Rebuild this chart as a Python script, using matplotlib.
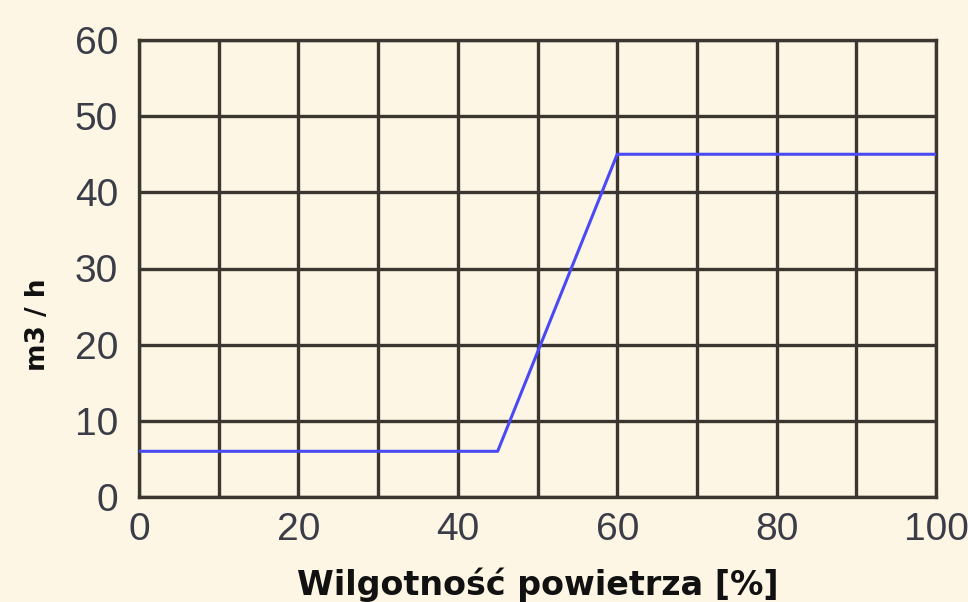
import numpy as np
import matplotlib
matplotlib.use('Agg')
import matplotlib.pyplot as plt

# humidity curve (breakpoints)
humidity = [0, 45, 60, 100]
flow = [6, 6, 45, 45]

xticks = [0, 20, 40, 60, 80, 100]
yticks = [0, 10, 20, 30, 40, 50, 60]

bg = '#fdf6e4'
grid_c = '#3b3630'

fig = plt.figure(figsize=(9.68, 6.02), dpi=100, facecolor=bg)
ax = fig.add_axes([139/968, 1-497/602, (936-139)/968, (497-40)/602])
ax.set_facecolor(bg)

ax.plot(humidity, flow, color='#4a4af5', lw=2.2, zorder=3)

ax.set_xlim(0, 100)
ax.set_ylim(0, 60)
ax.set_xticks(np.arange(0, 101, 10))
ax.set_yticks(yticks)
ax.grid(True, color=grid_c, lw=2.4, zorder=1)
ax.set_axisbelow(True)
for s in ax.spines.values():
    s.set_color(grid_c)
    s.set_linewidth(2.4)

ax.set_xticklabels([str(v) if v in xticks else '' for v in range(0, 101, 10)])
ax.tick_params(length=0, labelsize=28, labelcolor='#3a3c48')
ax.tick_params(axis='y', pad=15)
ax.tick_params(axis='x', pad=11)
for lab in ax.get_xticklabels() + ax.get_yticklabels():
    lab.set_family('Liberation Sans')

ax.set_xlabel('Wilgotność powietrza [%]', fontsize=24, fontweight='bold',
              family='DejaVu Sans', labelpad=14, color='#111111')
ax.set_ylabel('m3 / h', fontsize=19, fontweight='bold', family='DejaVu Sans',
              color='#111111')
ax.yaxis.set_label_coords(-0.111, 0.376)

fig.savefig('out.png', dpi=100, facecolor=bg)
